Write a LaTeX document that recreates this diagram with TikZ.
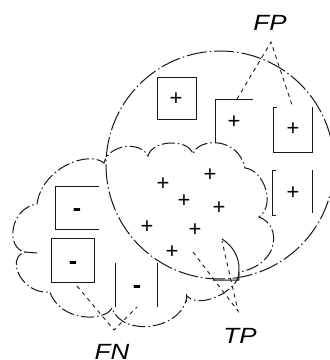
\documentclass[tikz,border=0pt]{standalone}
\usepackage{fontspec}
\setmainfont{Liberation Sans}
\newfontfamily\labelfont{Liberation Sans}[FakeStretch=1.18]
\begin{document}
\begin{tikzpicture}[x=1pt,y=-1pt,
  ink/.style={line width=1pt, draw=black!90},
  circline/.style={ink, dash pattern=on 20pt off 3pt on 1.5pt off 3pt},
  cloudline/.style={ink, dash pattern=on 13pt off 3pt on 1.5pt off 3pt},
  leader/.style={line width=0.9pt, draw=black!90, dash pattern=on 4pt off 4pt},
  plus/.style={inner sep=0pt, font=\fontsize{22}{22}\selectfont},
  minus/.style={inner sep=0pt, font=\fontsize{25}{25}\selectfont\bfseries},
  lab/.style={inner sep=0pt, font=\labelfont\itshape\fontsize{22}{22}\selectfont}]
\useasboundingbox[fill=white] (0,0) rectangle (330,360);

% predicted-positive region
\draw[circline] (220,165) circle[radius=114pt];

% actual-positive region (cloud)
\draw[cloudline] (37,204)
  .. controls (42,168) and (88,150) .. (104,163)
  .. controls (108,145) and (140,140) .. (148,156)
  .. controls (152,140) and (188,138) .. (193,154)
  .. controls (198,138) and (238,136) .. (245,168)
  .. controls (264,170) and (276,205) .. (259,217)
  .. controls (282,225) and (280,265) .. (239,272)
  .. controls (240,290) and (200,310) .. (187,296)
  .. controls (183,330) and (122,338) .. (112,308)
  .. controls (105,322) and (60,322) .. (50,292)
  .. controls (22,295) and (5,258) .. (25,252)
  .. controls (5,248) and (10,208) .. (37,204);
\draw[ink] (25,252) -- (37,253);
\draw[ink] (187,294) -- (187,302);
\draw[ink] (222,239) .. controls (233,246) and (239,257) .. (239,268) -- (239,280) -- (213,280);

% boxes
\draw[ink] (158,77) rectangle (197,119);
\draw[ink] (253,99) -- (216,99) -- (216,143);
\draw[ink] (277,107) -- (274,107) -- (274,152) -- (313,152) -- (313,107);
\draw[ink] (276,170) -- (273,170) -- (273,215) -- (276,215);
\draw[ink] (313,170) -- (313,213);
\draw[ink] (99,186) -- (56,186) -- (56,229) -- (99,229);
\draw[ink] (52,238) rectangle (95,282);
\draw[ink] (116,263) -- (116,307);
\draw[ink] (158,263) -- (158,307);

% signs
\node[plus] (p1) at (176,99) {+};
\node[plus] (p2) at (234,122) {+};
\node[plus] (p3) at (293,129) {+};
\node[plus] (p4) at (293,193) {+};
\node[plus] (q1) at (163,184) {+};
\node[plus] (q2) at (210,175) {+};
\node[plus] (q3) at (184,201) {+};
\node[plus] (q4) at (219,208) {+};
\node[plus] (q5) at (147,227) {+};
\node[plus] (q6) at (195,230) {+};
\node[plus] (q7) at (172,252) {+};
\node[minus] (m1) at (77,213) {-};
\node[minus] (m2) at (73,266) {-};
\node[minus] (m3) at (137,290) {-};

% labels and leaders
\node[lab] (FP) at (270,23) {FP};
\node[lab] (FN) at (112,352) {FN};
\node[lab] (TP) at (240,336) {TP};

\coordinate (fpA) at (271,42);
\coordinate (fpL) at (237,99);
\coordinate (fpR) at (293,108);
\coordinate (fnA) at (114,330);
\coordinate (fnL) at (77,286);
\coordinate (fnR) at (137,307);
\coordinate (tpA) at (238,311);
\coordinate (tpL) at (193,252);
\coordinate (tpR) at (222,241);

\draw[leader] (fpL) -- (fpA) -- (fpR);
\draw[leader] (fnL) -- (fnA) -- (fnR);
\draw[leader] (tpL) -- (tpA) -- (tpR);
\end{tikzpicture}
\end{document}
